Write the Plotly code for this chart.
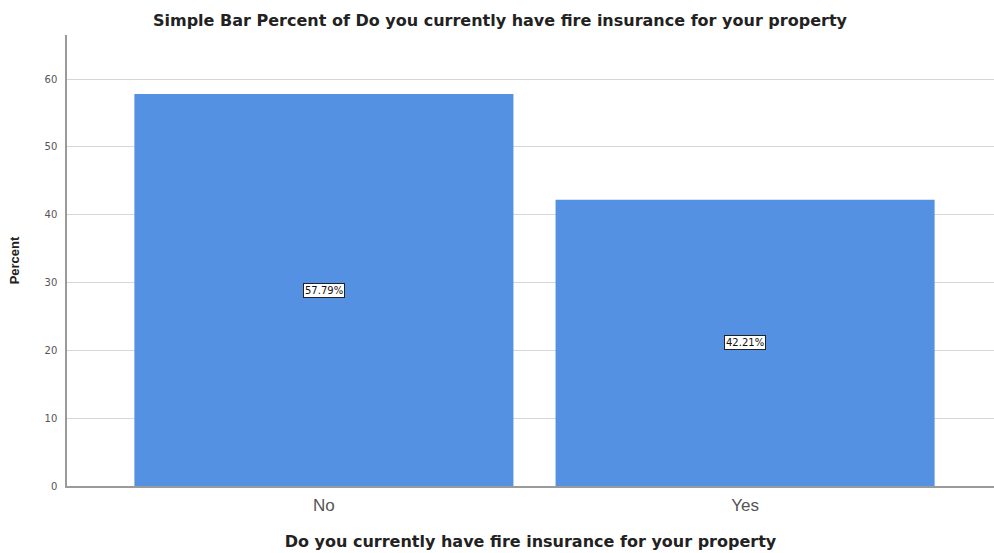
import plotly.graph_objects as go

# Frequencies of fire insurance ownership (percent of respondents)
categories = ["No", "Yes"]
percents = [57.79, 42.21]
y_ticks = [0, 10, 20, 30, 40, 50, 60]

BAR_COLOR = "#5591E2"
FONT = "Liberation Sans, Arial, sans-serif"
WIDE = "DejaVu Sans, Verdana, sans-serif"

fig = go.Figure()
fig.add_trace(go.Bar(
    x=list(range(len(categories))),
    y=percents,
    width=0.9,
    marker=dict(color=BAR_COLOR, line=dict(width=0)),
    hoverinfo="skip",
))

# Boxed value labels at the middle of each bar
for i, v in enumerate(percents):
    fig.add_annotation(
        x=i, y=v / 2, text=f"{v:.2f}%", showarrow=False,
        font=dict(family=WIDE, size=10, color="#111111"),
        bgcolor="#ffffff", bordercolor="#222222", borderwidth=1, borderpad=1,
    )

fig.update_layout(
    width=994, height=553,
    margin=dict(l=67, r=0, t=35, b=67),
    paper_bgcolor="#ffffff", plot_bgcolor="#ffffff",
    showlegend=False,
    font=dict(family=FONT),
    title=dict(
        text="<b>Simple Bar Percent of Do you currently have fire insurance for your property</b>",
        x=0.503, xanchor="center", y=0.963, yanchor="middle",
        font=dict(family=WIDE, size=16, color="#222222"),
    ),
    xaxis=dict(
        range=[-0.61, 1.591],
        tickmode="array",
        tickvals=list(range(len(categories))),
        ticktext=categories,
        tickfont=dict(family=FONT, size=17, color="#555555"),
        showgrid=False, zeroline=False,
        showline=True, linecolor="#9a9a9a", linewidth=1.5,
        ticks="", ticklabelstandoff=3,
        title=dict(
            text="<b>Do you currently have fire insurance for your property</b>",
            font=dict(family=WIDE, size=16, color="#222222"),
            standoff=22,
        ),
    ),
    yaxis=dict(
        range=[0, 66.5],
        tickmode="array",
        tickvals=y_ticks,
        tickfont=dict(family=WIDE, size=10, color="#555555"),
        showgrid=True, gridcolor="#d6d6d6", gridwidth=1,
        zeroline=False,
        showline=True, linecolor="#9a9a9a", linewidth=1.5,
        ticks="", ticklabelstandoff=6,
        title=dict(
            text="<b>Percent</b>",
            font=dict(family=FONT, size=13, color="#222222"),
            standoff=22,
        ),
    ),
)

fig.write_html("out.html")
